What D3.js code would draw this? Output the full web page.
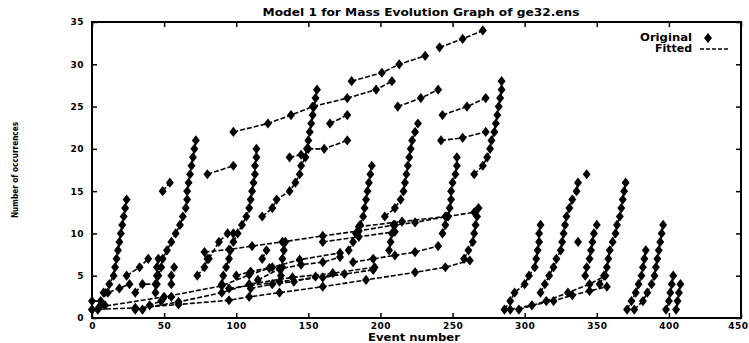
<!DOCTYPE html>
<html>
<head>
<meta charset="utf-8">
<script src="https://cdn.jsdelivr.net/npm/d3@7"></script>
<style>
  body { margin: 0; background: #fff; }
  text { font-family: "DejaVu Sans", sans-serif; font-weight: bold; fill: #000; }
</style>
</head>
<body>
<script>
var width = 749,
    height = 343;

// axis ticks
var xTicks = [0, 50, 100, 150, 200, 250, 300, 350, 400, 450],
    yTicks = [0, 5, 10, 15, 20, 25, 30, 35];

// upper sloped series
var up1 = [[98, 22], [122, 23], [138, 24], [153, 25], [177, 26], [197, 27], [208, 28]],
    up2 = [[180, 28], [201, 29], [213, 30], [231, 31]],
    up3 = [[241, 32], [257, 33], [271, 34]],
    up4 = [[212, 25], [228, 26], [240, 27]],
    up5 = [[243, 24], [260, 25], [273, 26]],
    up6 = [[242, 21], [257, 21.3], [273, 22]],
    up7 = [[165, 23], [177, 24]],
    up8 = [[150, 20], [161, 20], [177, 21]],
    up9 = [[137, 19], [145, 19.3]],
    up10 = [[80, 17], [98, 18]],
    up11 = [[49, 15], [54, 16]];

// near-vertical stacks
var st1 = [[8, 3], [12, 4], [15, 5], [16, 6], [17, 7], [18, 8], [19, 9], [20, 10], [21, 11], [22, 12], [23, 13], [24, 14]],
    st2 = [[46, 5], [48, 6], [49, 7], [52, 8], [55, 9], [58, 10], [61, 11], [63, 12], [65, 13], [66, 14], [66, 15], [67, 16], [68, 17], [69, 18], [70, 19], [71, 20], [72, 21]],
    st3 = [[98, 9], [101, 10], [104, 11], [107, 12], [109, 13], [110, 14], [111, 15], [112, 16], [113, 17], [113, 18], [114, 19], [114, 20]],
    st4 = [[118, 12], [125, 13], [128, 14], [137, 15], [141, 16], [144, 17], [145, 18], [148, 19], [149, 20], [150, 21], [151, 22], [152, 23], [153, 24], [154, 25], [155, 26], [156, 27]],
    st5 = [[178, 8], [181, 9], [183, 10], [186, 11], [188, 12], [189, 13], [190, 14], [191, 15], [192, 16], [193, 17], [194, 18]],
    st6 = [[203, 12], [210, 13], [214, 14], [216, 15], [217, 16], [218, 17], [219, 18], [220, 19], [221, 20], [222, 21], [224, 22], [226, 23]],
    st7 = [[243, 10], [245, 11], [247, 12], [248, 13], [249, 14], [249, 15], [250, 16], [252, 17], [253, 18], [253, 19]],
    st8 = [[265, 17], [271, 18], [274, 19], [276, 20], [277, 21], [279, 22], [280, 23], [281, 24], [282, 25], [283, 26], [284, 27], [284, 28]],
    st9 = [[258, 7], [261, 8], [264, 9], [265, 10], [266, 11], [267, 12], [268, 13]];

// lower-left short pieces
var lo1 = [[0, 2], [6, 2], [11, 3], [19, 3.5], [26, 4]],
    lo2 = [[24, 5], [33, 6], [39, 7]],
    lo3 = [[30, 3], [35, 4], [45, 4]],
    lo4 = [[44, 3], [44, 4], [45, 5], [45, 6], [46, 7]],
    lo5 = [[55, 4], [55, 5], [57, 6]],
    lo6 = [[73, 5], [78, 6], [80, 7]],
    lo7 = [[81, 7], [88, 9], [94, 10], [98, 10]],
    lo8 = [[90, 4], [91, 5], [93, 6], [95, 7], [96, 8]],
    lo9 = [[100, 5], [110, 5.5], [125, 6]],
    lo10 = [[131, 5], [132, 6], [132, 7], [133, 8], [134, 9]],
    lo11 = [[118, 7], [121, 8]],
    lo12 = [[206, 8], [207, 9], [208, 10], [209, 11]],
    lo13 = [[0, 1], [4, 1], [9, 1.5]],
    lo14 = [[35, 1], [40, 1.5], [48, 2], [55, 2.5]];

// long low fitted series
var ln1 = [[0, 1], [30, 1.2], [60, 1.6], [95, 2.1], [109, 2.5], [130, 3], [160, 3.7], [190, 4.5], [224, 5.4], [245, 6], [262, 6.8]],
    ln2 = [[30, 1], [60, 1.9], [90, 3], [109, 4], [139, 4.8], [167, 5.3], [196, 6]],
    ln3 = [[5, 1.3], [50, 2.5], [90, 3.8], [109, 5.1], [123, 5.9], [144, 6.9], [172, 7.7]],
    ln4 = [[78, 7.8], [95, 8.1], [111, 8.5], [132, 9], [160, 9.7], [185, 10.3], [210, 11], [224, 11.3], [246, 12], [265, 12.5]],
    ln5 = [[181, 6.6], [195, 7], [210, 7.4], [224, 7.8], [240, 8.5]],
    ln6 = [[95, 3.5], [130, 4.3], [160, 4.8], [195, 5.7]],
    ln7 = [[160, 9], [185, 9.6], [210, 10.2]],
    ln8 = [[185, 10.8], [215, 11.4], [245, 12]],
    ln9 = [[110, 3.5], [125, 4], [140, 4.3], [155, 4.9], [175, 5.2]],
    ln10 = [[115, 4.5], [130, 5.8], [145, 6.3], [160, 6.6], [172, 7.2]];

// right cluster
var rt1 = [[286, 1], [290, 2], [293, 3], [300, 4], [303, 5], [307, 6], [308, 7], [309, 8], [310, 9], [310, 10], [311, 11]],
    rt2 = [[311, 3], [314, 4], [317, 5], [320, 6], [322, 7], [325, 8], [326, 9], [327, 10], [328, 11], [329, 12], [331, 13], [333, 14], [336, 15], [337, 16]],
    rt3 = [[352, 4], [355, 5], [357, 6], [358, 7], [359, 8], [361, 9], [363, 10], [364, 11], [366, 12], [367, 13], [368, 14], [369, 15], [370, 16]],
    rt4 = [[342, 5], [343, 6], [345, 7], [346, 8], [347, 9], [348, 10], [350, 11]],
    rt5 = [[371, 1], [374, 2], [377, 3], [379, 4], [381, 5], [382, 6], [383, 7], [384, 8]],
    rt6 = [[376, 1], [382, 2], [385, 3], [388, 4], [390, 5], [391, 6], [392, 7], [393, 8], [394, 9], [395, 10], [396, 11]],
    rt7 = [[398, 1], [400, 2], [401, 3], [402, 4], [403, 5]],
    rt8 = [[405, 1], [406, 2], [407, 3], [408, 4]],
    rt9 = [[290, 1], [305, 1.5], [320, 2], [333, 2.7], [345, 3.2], [357, 3.7]],
    rt10 = [[296, 1], [315, 2], [330, 3], [345, 4], [356, 5]],
    rtSingles = [[343, 17], [337, 9]];

var series = [up1, up2, up3, up4, up5, up6, up7, up8, up9, up10, up11,
    st1, st2, st3, st4, st5, st6, st7, st8, st9,
    lo1, lo2, lo3, lo4, lo5, lo6, lo7, lo8, lo9, lo10, lo11, lo12, lo13, lo14,
    ln1, ln2, ln3, ln4, ln5, ln6, ln7, ln8, ln9, ln10,
    rt1, rt2, rt3, rt4, rt5, rt6, rt7, rt8, rt9, rt10];

var x = d3.scaleLinear().domain([0, 450]).range([92, 741]),
    y = d3.scaleLinear().domain([0, 35]).range([318, 22]);

var svg = d3.select('body').append('svg')
    .attr('width', width)
    .attr('height', height);

var line = d3.line()
    .x(function (d) { return x(d[0]); })
    .y(function (d) { return y(d[1]); });

svg.selectAll('path.fit')
    .data(series)
    .enter()
    .append('path')
    .attr('class', 'fit')
    .attr('d', line)
    .attr('fill', 'none')
    .attr('stroke', '#000')
    .attr('stroke-width', 1.6)
    .attr('stroke-dasharray', '5,2');

var diamond = d3.symbol().type(d3.symbolDiamond).size(30);
var allPts = [].concat.apply([], series).concat(rtSingles);

svg.selectAll('path.pt')
    .data(allPts)
    .enter()
    .append('path')
    .attr('class', 'pt')
    .attr('d', diamond)
    .attr('transform', function (d) {
        return 'translate(' + x(d[0]) + ',' + y(d[1]) + ') scale(1.35,1)';
    })
    .attr('fill', '#000');

// frame
svg.append('rect')
    .attr('x', 92).attr('y', 22)
    .attr('width', 741 - 92).attr('height', 318 - 22)
    .attr('fill', 'none')
    .attr('stroke', '#000')
    .attr('stroke-width', 2);

function styleAxis(g) {
    g.select('.domain').remove();
    g.selectAll('.tick line').attr('stroke', '#000').attr('stroke-width', 1.5);
    g.selectAll('.tick text')
        .style('font-family', '"DejaVu Sans", sans-serif')
        .style('font-weight', 'bold')
        .style('font-size', '9px')
        .style('letter-spacing', '0.5px');
}

var xAxisG = svg.append('g')
    .attr('transform', 'translate(0,318)')
    .call(d3.axisBottom(x).tickValues(xTicks).tickSize(-5).tickPadding(5))
    .call(styleAxis);

// last label sits at the window edge, keep it inside
xAxisG.selectAll('.tick text')
    .filter(function (d) { return d === 450; })
    .attr('text-anchor', 'end')
    .attr('x', 7);

svg.append('g')
    .attr('transform', 'translate(0,22)')
    .call(d3.axisTop(x).tickValues(xTicks).tickSize(-5).tickFormat(''))
    .call(styleAxis);

svg.append('g')
    .attr('transform', 'translate(92,0)')
    .call(d3.axisLeft(y).tickValues(yTicks).tickSize(-5).tickPadding(8))
    .call(styleAxis);

svg.append('g')
    .attr('transform', 'translate(741,0)')
    .call(d3.axisRight(y).tickValues(yTicks).tickSize(-5).tickFormat(''))
    .call(styleAxis);

// title and labels
svg.append('text')
    .attr('x', 421).attr('y', 16)
    .attr('text-anchor', 'middle')
    .attr('font-size', 10)
    .attr('textLength', 317)
    .attr('lengthAdjust', 'spacingAndGlyphs')
    .text('Model 1 for Mass Evolution Graph of ge32.ens');

svg.append('text')
    .attr('x', 414).attr('y', 341)
    .attr('text-anchor', 'middle')
    .attr('font-size', 10)
    .attr('textLength', 92)
    .attr('lengthAdjust', 'spacingAndGlyphs')
    .text('Event number');

svg.append('text')
    .attr('transform', 'translate(18,170) rotate(-90)')
    .attr('text-anchor', 'middle')
    .attr('font-size', 8)
    .attr('textLength', 96)
    .attr('lengthAdjust', 'spacingAndGlyphs')
    .text('Number of occurrences');

// legend
svg.append('text')
    .attr('x', 692).attr('y', 41)
    .attr('text-anchor', 'end')
    .attr('font-size', 10)
    .attr('textLength', 52)
    .attr('lengthAdjust', 'spacingAndGlyphs')
    .text('Original');

svg.append('path')
    .attr('d', diamond)
    .attr('transform', 'translate(708,38) scale(1.35,1)')
    .attr('fill', '#000');

svg.append('text')
    .attr('x', 692).attr('y', 52)
    .attr('text-anchor', 'end')
    .attr('font-size', 10)
    .attr('textLength', 37)
    .attr('lengthAdjust', 'spacingAndGlyphs')
    .text('Fitted');

svg.append('line')
    .attr('x1', 700).attr('x2', 730)
    .attr('y1', 49).attr('y2', 49)
    .attr('stroke', '#000')
    .attr('stroke-width', 1.4)
    .attr('stroke-dasharray', '4,2');
</script>
</body>
</html>
